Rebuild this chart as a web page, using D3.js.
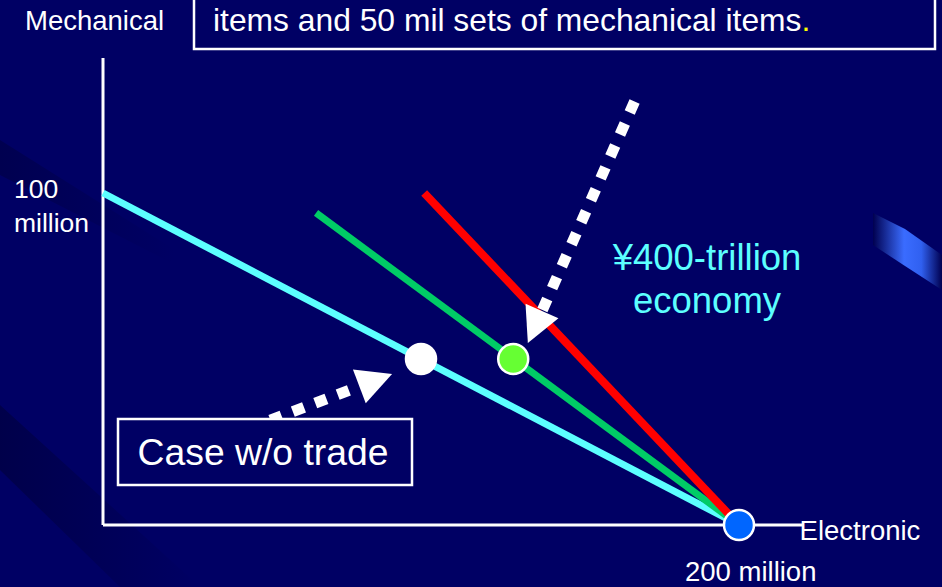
<!DOCTYPE html>
<html>
<head>
<meta charset="utf-8">
<script src="https://cdn.jsdelivr.net/npm/d3@7"></script>
<style>
  html, body { margin: 0; padding: 0; background: #000064; overflow: hidden; }
  svg { display: block; }
  text { font-family: "Liberation Sans", Arial, sans-serif; }
</style>
</head>
<body>
<svg id="chart" width="942" height="587"></svg>
<script>
// Production possibilities, in millions of sets
const xDomain = [0, 200];          // electronic items
const yDomain = [0, 100];          // mechanical items
const axisTitles = ["Electronic", "Mechanical"];
const xMaxLabel = ["200 million"];
const yMaxLabel = ["100", "million"];
const headline = ["items and 50 mil sets of mechanical items", "."];
const economyLabel = ["¥400-trillion", "economy"];
const noTradeLabel = ["Case w/o trade"];

// Frontiers: [electronic, mechanical] end points
const noTradeLine = [[0, 100], [200, 0]];
const tradeLine = [[67, 94], [200, 0]];
const economyLine = [[101, 100], [200, 0]];

// Consumption / production points
const noTradePoint = [100, 50];
const tradePoint = [129, 50];
const specialisedPoint = [200, 0];

// Call-out arrows: [start, tip]
const economyArrow = [[166.4, 125.9], [133.6, 54.8]];
const noTradeArrow = [[54.4, 32.2], [90.9, 45.5]];

const svg = d3.select("#chart");
const W = 942, H = 587;

const x = d3.scaleLinear().domain(xDomain).range([103, 739]);
const y = d3.scaleLinear().domain(yDomain).range([525, 193]);

// ---- background -------------------------------------------------------
const defs = svg.append("defs");
const swoosh = defs.append("linearGradient").attr("id", "swoosh")
  .attr("x1", "0").attr("x2", "1").attr("y1", "0").attr("y2", "0");
swoosh.append("stop").attr("offset", "0").attr("stop-color", "#000050");
swoosh.append("stop").attr("offset", "0.45").attr("stop-color", "#3a6cff");
swoosh.append("stop").attr("offset", "0.7").attr("stop-color", "#3060f0");
swoosh.append("stop").attr("offset", "1").attr("stop-color", "#000050");

const shade = defs.append("linearGradient").attr("id", "shade")
  .attr("x1", "0").attr("x2", "1").attr("y1", "0").attr("y2", "0");
shade.append("stop").attr("offset", "0").attr("stop-color", "#000030").attr("stop-opacity", 0.55);
shade.append("stop").attr("offset", "1").attr("stop-color", "#000030").attr("stop-opacity", 0);

svg.append("rect").attr("width", W).attr("height", H).attr("fill", "#000064");

svg.append("path")
  .attr("d", "M0,140 L0,175 L170,262 L175,250 Z")
  .attr("fill", "url(#shade)").attr("opacity", 0.7);
svg.append("path")
  .attr("d", "M0,405 L0,470 L120,587 L200,587 Z")
  .attr("fill", "url(#shade)").attr("opacity", 0.9);

svg.append("path")
  .attr("d", "M873,213 L905,229 L942,255 L942,290 L905,266 L873,245 Z")
  .attr("fill", "url(#swoosh)");

// ---- headline box -----------------------------------------------------
svg.append("rect")
  .attr("x", 194).attr("y", -4).attr("width", 741).attr("height", 53)
  .attr("fill", "none").attr("stroke", "#fff").attr("stroke-width", 2.5);

const head = svg.append("text")
  .attr("x", 213).attr("y", 31)
  .attr("font-size", 31.8).attr("fill", "#fff");
head.append("tspan").text(headline[0]);
head.append("tspan").attr("fill", "#ffff00").text(headline[1]);

// ---- axes -------------------------------------------------------------
const axisColor = "#fff";
svg.append("line")
  .attr("x1", x(0)).attr("x2", x(0))
  .attr("y1", y(0)).attr("y2", y(140.7))
  .attr("stroke", axisColor).attr("stroke-width", 3);
svg.append("line")
  .attr("x1", x(0)).attr("x2", x(220))
  .attr("y1", y(0)).attr("y2", y(0))
  .attr("stroke", axisColor).attr("stroke-width", 3);

svg.append("text")
  .attr("x", 25).attr("y", 30)
  .attr("font-size", 27.5).attr("fill", "#fff")
  .text(axisTitles[1]);

svg.append("text")
  .attr("x", 14).attr("y", y(yDomain[1]) + 5)
  .attr("font-size", 26.5).attr("fill", "#fff")
  .selectAll("tspan").data(yMaxLabel).join("tspan")
  .attr("x", 14).attr("dy", (d, i) => i === 0 ? 0 : 34)
  .text(d => d);

svg.append("text")
  .attr("x", x(220) - 3).attr("y", y(0) + 15)
  .attr("font-size", 27.5).attr("fill", "#fff")
  .text(axisTitles[0]);

svg.append("text")
  .attr("x", x(xDomain[1]) - 54).attr("y", y(0) + 56)
  .attr("font-size", 27.5).attr("fill", "#fff")
  .text(xMaxLabel[0]);

// ---- frontiers --------------------------------------------------------
const line = d3.line().x(d => x(d[0])).y(d => y(d[1]));
const frontiers = [
  { pts: noTradeLine, color: "#5cffff", width: 7 },
  { pts: tradeLine, color: "#00cc66", width: 7 },
  { pts: economyLine, color: "#ff0000", width: 8 }
];
svg.append("g").selectAll("path").data(frontiers).join("path")
  .attr("d", d => line(d.pts))
  .attr("fill", "none")
  .attr("stroke", d => d.color)
  .attr("stroke-width", d => d.width)
  .attr("stroke-linecap", "butt");

// ---- points -----------------------------------------------------------
const dots = [
  { p: noTradePoint, fill: "#ffffff" },
  { p: tradePoint, fill: "#66ff33" },
  { p: specialisedPoint, fill: "#0066ff" }
];
svg.append("g").selectAll("circle").data(dots).join("circle")
  .attr("cx", d => x(d.p[0])).attr("cy", d => y(d.p[1]))
  .attr("r", 15)
  .attr("fill", d => d.fill)
  .attr("stroke", "#fff").attr("stroke-width", 2.5);

// ---- call-out arrows --------------------------------------------------
function drawArrow(a) {
  const s = [x(a[0][0]), y(a[0][1])];
  const t = [x(a[1][0]), y(a[1][1])];
  const dx = t[0] - s[0], dy = t[1] - s[1];
  const len = Math.hypot(dx, dy);
  const ux = dx / len, uy = dy / len;
  const headLen = 35, headW = 36, dash = 12;
  const bx = t[0] - ux * headLen, by = t[1] - uy * headLen;
  const g = svg.append("g");
  g.append("line")
    .attr("x1", s[0] - ux * dash / 2).attr("y1", s[1] - uy * dash / 2)
    .attr("x2", bx + ux * 4).attr("y2", by + uy * 4)
    .attr("stroke", "#fff").attr("stroke-width", 11)
    .attr("stroke-dasharray", `${dash} 12`);
  g.append("path")
    .attr("d", `M${t[0]},${t[1]} L${bx - uy * headW / 2},${by + ux * headW / 2} L${bx + uy * headW / 2},${by - ux * headW / 2} Z`)
    .attr("fill", "#fff");
}
drawArrow(economyArrow);
drawArrow(noTradeArrow);

// ---- labels -----------------------------------------------------------
svg.append("text")
  .attr("text-anchor", "middle").attr("font-size", 36.5).attr("fill", "#5cffff")
  .selectAll("tspan").data(economyLabel).join("tspan")
  .attr("x", 707).attr("y", (d, i) => 270 + i * 43)
  .text(d => d);

svg.append("rect")
  .attr("x", 118).attr("y", 419).attr("width", 294).attr("height", 66)
  .attr("fill", "#000064").attr("stroke", "#fff").attr("stroke-width", 2.5);
svg.append("text")
  .attr("x", 263).attr("y", 465)
  .attr("text-anchor", "middle").attr("font-size", 37.3).attr("fill", "#fff")
  .text(noTradeLabel[0]);
</script>
</body>
</html>
